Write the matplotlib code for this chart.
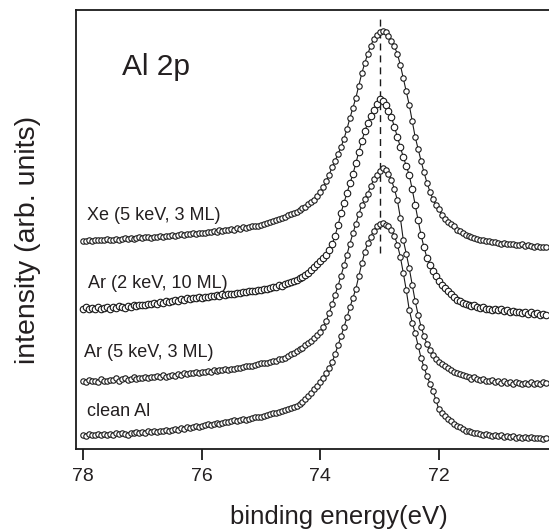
import numpy as np
import matplotlib
matplotlib.use('Agg')
import matplotlib.pyplot as plt

plt.rcParams['font.family'] = ['Liberation Sans', 'DejaVu Sans']

# ---------------- data (binding energy grid, eV) ----------------
energy = np.round(np.arange(78.0, 70.175, -0.05), 2)

xe_5kev_3ml = [
    47.4, 47.3, 47.6, 47.4, 47.5, 47.7, 47.5, 47.6, 47.8, 47.6,
    47.7, 47.9, 47.7, 47.8, 48.0, 47.9, 48.1, 47.9, 48.0, 48.2,
    48.1, 48.3, 48.2, 48.1, 48.4, 48.3, 48.5, 48.4, 48.6, 48.5,
    48.7, 48.6, 48.8, 48.9, 48.7, 49.0, 48.9, 49.1, 49.0, 49.2,
    49.3, 49.2, 49.5, 49.4, 49.6, 49.5, 49.8, 49.7, 49.9, 50.0,
    50.1, 50.0, 50.3, 50.2, 50.5, 50.4, 50.6, 50.8, 50.7, 50.9,
    51.0, 51.3, 51.4, 51.7, 51.9, 52.1, 52.4, 52.7, 52.9, 53.3,
    53.5, 53.8, 54.1, 54.5, 54.8, 55.2, 55.7, 56.2, 56.8, 57.6,
    58.5, 59.6, 61.0, 62.5, 64.2, 65.7, 67.2, 68.8, 70.7, 72.9,
    75.4, 77.7, 80.0, 82.8, 85.6, 87.9, 90.0, 91.8, 93.4, 94.4,
    95.0, 95.2, 94.9, 94.1, 93.0, 91.7, 90.0, 87.5, 84.5, 81.5,
    78.4, 74.8, 71.1, 68.3, 65.6, 63.0, 60.6, 58.6, 56.9, 55.6,
    54.6, 53.4, 52.4, 51.8, 51.3, 50.7, 50.0, 49.6, 49.2, 48.8,
    48.5, 48.3, 48.1, 47.9, 47.6, 47.7, 47.4, 47.3, 47.1, 47.2,
    47.0, 46.8, 46.9, 46.7, 46.6, 46.8, 46.5, 46.4, 46.6, 46.3,
    46.4, 46.2, 46.1, 46.3, 46.0, 46.1, 45.9,
]

ar_2kev_10ml = [
    32.0, 32.3, 31.8, 32.2, 32.0, 32.4, 31.9, 32.1, 32.3, 32.0,
    32.4, 32.1, 32.5, 32.3, 32.2, 32.6, 32.4, 32.7, 32.5, 32.8,
    32.9, 32.7, 33.1, 33.0, 33.3, 33.1, 33.4, 33.2, 33.6, 33.5,
    33.7, 33.9, 33.8, 34.1, 33.9, 34.3, 34.2, 34.4, 34.3, 34.6,
    34.5, 34.7, 34.6, 34.9, 34.8, 35.0, 34.9, 35.2, 35.1, 35.3,
    35.4, 35.3, 35.6, 35.5, 35.8, 35.7, 36.0, 35.9, 36.1, 36.2,
    36.2, 36.5, 36.4, 36.7, 36.9, 37.0, 37.3, 37.2, 37.6, 37.8,
    38.0, 38.3, 38.6, 38.9, 39.2, 39.6, 40.1, 40.7, 41.5, 42.2,
    42.8, 43.5, 44.3, 45.4, 46.7, 48.6, 51.0, 53.8, 56.1, 58.3,
    60.5, 62.6, 65.1, 67.7, 70.1, 72.4, 74.2, 75.9, 77.3, 78.5,
    79.7, 79.3, 78.4, 77.1, 75.6, 73.4, 71.1, 68.8, 66.5, 64.5,
    62.4, 59.2, 55.6, 52.1, 48.7, 45.9, 43.5, 41.9, 40.5, 39.3,
    38.3, 37.4, 36.7, 36.0, 35.2, 34.6, 33.9, 33.6, 33.2, 33.0,
    32.8, 32.5, 32.7, 32.3, 32.1, 32.4, 31.9, 32.0, 31.7, 31.9,
    31.6, 31.8, 31.4, 31.6, 31.2, 31.5, 31.1, 31.3, 31.0, 31.2,
    30.8, 31.1, 30.7, 30.9, 30.5, 30.8, 30.5,
]

ar_5kev_3ml = [
    15.5, 15.2, 15.8, 15.4, 15.6, 15.3, 15.9, 15.6, 15.4, 15.8,
    15.7, 16.1, 15.6, 15.9, 16.2, 15.8, 16.0, 16.3, 15.9, 16.2,
    16.1, 16.4, 16.2, 16.5, 16.3, 16.6, 16.4, 16.8, 16.5, 16.7,
    16.9, 16.7, 17.1, 16.9, 17.2, 17.0, 17.4, 17.2, 17.5, 17.3,
    17.6, 17.5, 17.8, 17.6, 17.9, 17.8, 18.1, 17.9, 18.2, 18.1,
    18.3, 18.2, 18.5, 18.4, 18.7, 18.8, 19.0, 18.9, 19.2, 19.3,
    19.5, 19.7, 19.6, 19.9, 20.1, 20.0, 20.4, 20.6, 20.8, 21.2,
    21.6, 21.9, 22.3, 22.7, 23.1, 23.6, 24.1, 24.6, 25.2, 25.9,
    26.7, 27.8, 29.2, 31.0, 33.0, 35.1, 37.2, 39.5, 41.8, 44.3,
    46.8, 49.1, 51.3, 53.5, 55.5, 56.9, 58.2, 59.8, 61.4, 62.5,
    63.4, 64.0, 63.6, 62.6, 61.3, 59.2, 56.7, 52.7, 47.6, 44.5,
    41.2, 37.4, 33.7, 30.6, 27.8, 25.7, 23.9, 22.6, 21.5, 20.5,
    19.9, 19.3, 18.8, 18.5, 18.1, 17.6, 17.4, 17.0, 16.8, 16.6,
    16.4, 16.0, 16.3, 15.9, 15.7, 16.0, 15.6, 15.4, 15.7, 15.3,
    15.5, 15.1, 15.4, 15.0, 15.3, 14.8, 15.2, 15.0, 14.7, 15.1,
    14.9, 15.2, 14.8, 15.1, 14.9, 15.2, 15.0,
]

clean_al = [
    3.2, 3.0, 3.4, 3.1, 3.3, 3.5, 3.2, 3.4, 3.1, 3.5,
    3.3, 3.6, 3.4, 3.7, 3.5, 3.3, 3.7, 3.6, 3.8, 3.6,
    3.9, 3.7, 4.0, 3.8, 4.1, 3.9, 4.2, 4.0, 4.3, 4.1,
    4.3, 4.5, 4.4, 4.7, 4.6, 4.9, 4.8, 5.0, 5.2, 5.1,
    5.3, 5.4, 5.6, 5.5, 5.7, 5.9, 5.8, 6.0, 6.2, 6.1,
    6.3, 6.5, 6.4, 6.6, 6.8, 6.7, 6.9, 7.0, 7.2, 7.3,
    7.4, 7.6, 7.7, 7.9, 8.1, 8.2, 8.5, 8.6, 8.9, 9.1,
    9.3, 9.6, 9.9, 10.3, 10.7, 11.3, 12.1, 12.8, 13.6, 14.4,
    15.3, 16.2, 17.3, 18.5, 19.8, 21.6, 23.7, 25.7, 27.8, 30.0,
    32.3, 34.4, 36.5, 39.4, 42.3, 44.8, 46.9, 48.4, 49.7, 50.8,
    51.3, 51.5, 51.0, 50.7, 49.9, 48.6, 46.5, 43.8, 40.1, 36.2,
    31.7, 28.8, 26.4, 23.5, 20.7, 18.6, 16.6, 14.9, 13.2, 11.2,
    9.0, 8.2, 7.5, 6.9, 6.3, 5.7, 5.2, 4.9, 4.5, 4.2,
    4.0, 3.8, 3.6, 3.7, 3.4, 3.2, 3.4, 3.1, 3.0, 3.2,
    2.9, 3.1, 2.8, 2.9, 2.7, 2.9, 2.6, 2.8, 2.6, 2.7,
    2.5, 2.7, 2.4, 2.6, 2.5, 2.3, 2.5,
]

series_labels = ["Xe (5 keV, 3 ML)", "Ar (2 keV, 10 ML)",
                 "Ar (5 keV, 3 ML)", "clean Al"]
label_energy = [77.93, 77.92, 77.98, 77.93]
label_level = [52.2, 36.6, 21.0, 7.5]
peak_energy = 73.0
peak_line_range = (44.6, 98.9)
xticks = [78, 76, 74, 72]

# ---------------- figure ----------------
W, H = 549, 529
fig = plt.figure(figsize=(W / 100, H / 100), dpi=100)
ax = fig.add_axes([76 / W, 1 - 449 / H, (W - 76) / W + 0.01, (449 - 10) / H])

txt = '#231f20'
series = [xe_5kev_3ml, ar_2kev_10ml, ar_5kev_3ml, clean_al]
msizes = [3.9, 4.7, 3.9, 3.9]
for vals, ms in zip(series, msizes):
    n = min(len(vals), len(energy))
    ax.plot(energy[:n], vals[:n], color='#1a1a1a', lw=0.8, marker='o',
            ms=ms, mfc='white', mec='#1a1a1a', mew=0.8, zorder=3)

ax.vlines(peak_energy, *peak_line_range, colors='#1a1a1a', lw=1.0,
          linestyles=(0, (5, 3.6)), zorder=2)

for lab, ex, ly in zip(series_labels, label_energy, label_level):
    ax.text(ex, ly, lab, fontsize=13, color=txt, ha='left', va='baseline')
ax.text(77.35, 85.2, "Al 2p", fontsize=21.5, color=txt, ha='left', va='baseline')

ax.set_xlim(78.12, 70.05)
ax.set_ylim(0, 100)
ax.set_xticks(xticks)
ax.set_xticklabels([str(t) for t in xticks], fontsize=14, color=txt)
ax.set_yticks([])
ax.tick_params(axis='x', direction='out', length=8, width=1.3, pad=6, colors='#1a1a1a',
               labelcolor=txt)
for s in ['left', 'top', 'bottom']:
    ax.spines[s].set_linewidth(1.3)
    ax.spines[s].set_color('#1a1a1a')
ax.spines['right'].set_visible(False)

fig.text(339 / W, 1 - 517 / H, "binding energy(eV)", fontsize=18.5, color=txt,
         ha='center', va='center')
fig.text(28 / W, 1 - 240 / H, "intensity (arb. units)", fontsize=20.5, color=txt,
         ha='center', va='center', rotation=90)

fig.savefig('out.png', dpi=100)
